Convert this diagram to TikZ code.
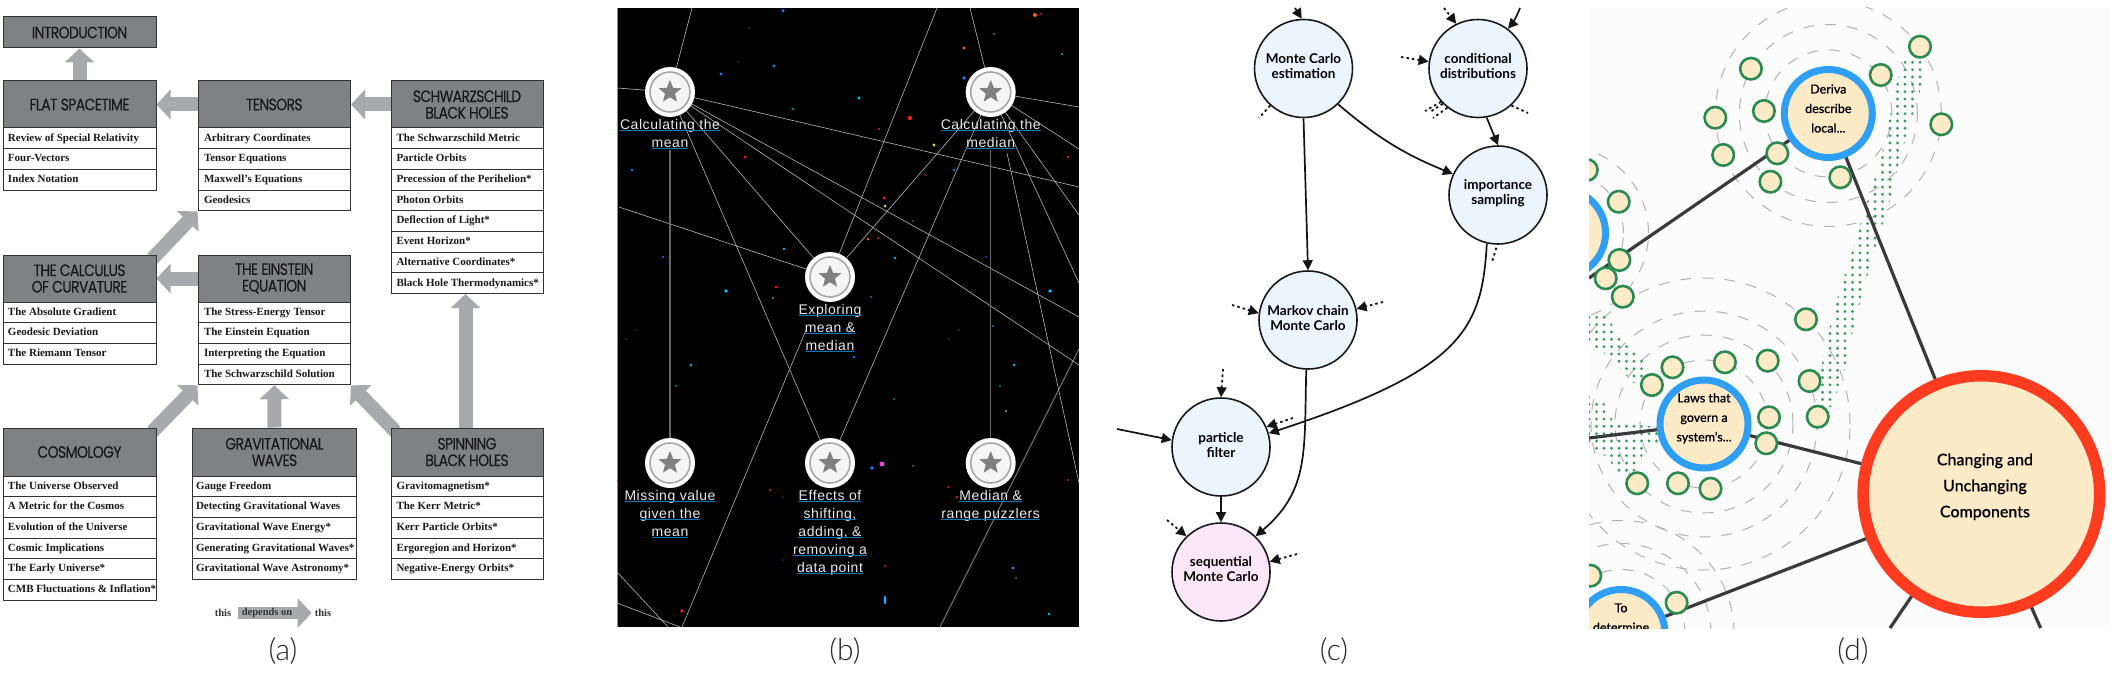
\documentclass[tikz,border=0pt]{standalone}
\usepackage{fontspec}
\usetikzlibrary{arrows.meta,shapes.geometric,backgrounds}
\setmainfont{Liberation Serif}
\newfontfamily\hdf[LetterSpace=-4,FakeStretch=0.85,FakeBold=0.15]{Poppins}
\newfontfamily\lbf[LetterSpace=4]{Liberation Sans}
\newfontfamily\latof{Lato}
\newfontfamily\latom[FakeBold=0.25]{Lato Medium}
\newfontfamily\capf{Lato Light}
\definecolor{hdrgray}{HTML}{808185}
\definecolor{arrgray}{HTML}{A8A9AD}
\definecolor{boxline}{HTML}{333336}
\definecolor{ulblue}{HTML}{0A78C8}
\definecolor{cblue}{HTML}{EAF5FE}
\definecolor{cpink}{HTML}{FCE6FA}
\definecolor{cream}{HTML}{FDEBC8}
\definecolor{ringblue}{HTML}{2F9FF5}
\definecolor{ringred}{HTML}{FF3B20}
\definecolor{ringgreen}{HTML}{2A8A4F}
\definecolor{dotgreen}{HTML}{3E9A65}
\definecolor{edged}{HTML}{3A3A3E}
\definecolor{dr}{HTML}{FF2010}
\definecolor{db}{HTML}{1080FF}
\definecolor{dc}{HTML}{00C0FF}
\definecolor{dg}{HTML}{00A830}
\definecolor{dd}{HTML}{0A5A20}
\definecolor{dn}{HTML}{102070}
\definecolor{do}{HTML}{FF6010}
\definecolor{dt}{HTML}{00C8B0}
\definecolor{dy}{HTML}{D8E040}
\definecolor{dm}{HTML}{FF40E0}
\tikzset{
  hdrbox/.style={draw=boxline,line width=1pt,fill=hdrgray,inner sep=0pt,align=center,text=black!90,
    font=\hdf\fontsize{16.5}{16.5}\selectfont},
  rowbox/.style={draw=boxline,line width=1pt,fill=white,inner sep=0pt,text height=8pt,text depth=2.5pt,
    font=\bfseries\fontsize{11}{13}\selectfont,text=black!90},
  bigarrow/.style={draw=arrgray,line width=14pt,-{Triangle[length=14pt,width=29pt,fill=arrgray]}},
  starbase/.style={circle,fill=white,minimum size=50pt,inner sep=0pt},
  starring/.style={circle,draw=black!35,line width=1.6pt,fill=black!4,minimum size=40pt,inner sep=0pt},
  starglyph/.style={star,star points=5,star point ratio=2.3,fill=black!50,minimum size=24pt,inner sep=0pt},
  skyline/.style={draw=black!28,line width=0.6pt},
  stemline/.style={draw=black!60,line width=1.5pt},
  starlabel/.style={anchor=north,inner sep=0pt,align=center,text=black!8,
    font=\lbf\fontsize{14}{18}\selectfont},
  concept/.style={circle,draw=black!90,line width=1.6pt,fill=cblue,minimum size=98pt,inner sep=0pt,
    font=\latof\bfseries\fontsize{13.5}{15}\selectfont},
  solidarrow/.style={draw=black!92,line width=1.7pt,-{Triangle[length=10pt,width=10pt]}},
  dottedarrow/.style={draw=black!92,line width=1.8pt,dash pattern=on 2.5pt off 3pt,
    -{Triangle[length=10pt,width=10pt,sep=0pt]}},
  dottedstub/.style={draw=black!92,line width=1.8pt,dash pattern=on 2.5pt off 3pt},
  ringdash/.style={draw=black!30,line width=1pt,dash pattern=on 11pt off 11pt},
  topicnode/.style={circle,draw=ringblue,line width=7pt,fill=cream,minimum size=88pt,inner sep=0pt,align=center,
    font=\latom\fontsize{12.5}{19.5}\selectfont,text=black},
  bignode/.style={circle,draw=ringred,line width=11.5pt,fill=cream,minimum size=236.5pt,inner sep=0pt,align=center,
    font=\latom\fontsize{16}{26}\selectfont,text=black},
  leaf/.style={circle,draw=ringgreen,line width=2.6pt,fill=cream,minimum size=21.5pt,inner sep=0pt},
  link/.style={draw=edged,line width=3.2pt},
  capt/.style={inner sep=0pt,text=black!85,font=\capf\fontsize{30}{32}\selectfont},
}
% name, x1, x2, ytop, header height, title, inset, rows
\newcommand{\tbl}[8]{%
  \pgfmathsetmacro{\tcx}{(#2+#3)/2}\pgfmathsetmacro{\tw}{#3-#2}%
  \pgfmathsetmacro{\tcy}{#4+#5/2}%
  \node[hdrbox,minimum width=\tw pt,minimum height=#5 pt] (#1H) at (\tcx,\tcy) {#6};
  \foreach \rowtxt [count=\ri] in {#8}{%
    \pgfmathsetmacro{\ry}{#4+#5+(\ri-0.5)*20.7}%
    \node[rowbox,minimum width=\tw pt,minimum height=20.7pt] (#1\ri) at (\tcx,\ry)
      {\makebox[\tw pt][l]{\hspace{#7pt}\rowtxt}};
  }%
}
\newcommand{\ulb}[1]{\setbox0\hbox{#1}\rlap{\copy0}\raisebox{-2pt}{\textcolor{ulblue}{\rule{\wd0}{1.1pt}}}}
\newcommand{\starnode}[3]{%
  \node[starbase] (#1) at (#2,#3) {};
  \node[starring] (#1-ring) at (#2,#3) {};
  \node[starglyph] (#1-star) at (#2,#3) {};
}
\newcommand{\ctext}[2]{\raisebox{#1}[0pt][0pt]{\begin{tabular}{@{}c@{}}#2\end{tabular}}}
\newcommand{\dotband}[5]{%
  \begin{scope}
    \clip #5;
    \foreach \kk in {0,...,#2}{\foreach \jj in {0,...,#4}{%
      \fill[dotgreen] ({#1+\kk*7.5},{#3+\jj*7.33}) circle (1.6pt);}}
  \end{scope}
}
\begin{document}
\begin{tikzpicture}[x=1pt,y=-1pt]
\useasboundingbox (0,0) rectangle (2117,674);
\begin{pgfonlayer}{background}
\fill[white] (0,0) rectangle (2117,674);
\end{pgfonlayer}

%% ---------- panel (a)
\node[hdrbox,minimum width=153pt,minimum height=31pt] (intro) at (79.5,32.5) {INTRODUCTION};
\tbl{flat}{3}{156}{81}{47}{FLAT SPACETIME}{5}{Review of Special Relativity,Four-Vectors,Index Notation}
\tbl{tens}{198}{350.5}{81}{47}{TENSORS}{6}{Arbitrary Coordinates,Tensor Equations,Maxwell’s Equations,Geodesics}
\tbl{schw}{391}{543}{81}{47}{SCHWARZSCHILD\\BLACK HOLES}{5.5}{The Schwarzschild Metric,Particle Orbits,Precession of the Perihelion*,Photon Orbits,Deflection of Light*,Event Horizon*,Alternative Coordinates*,Black Hole Thermodynamics*}
\tbl{calc}{3}{156}{255}{47}{THE CALCULUS\\OF CURVATURE}{5}{The Absolute Gradient,Geodesic Deviation,The Riemann Tensor}
\tbl{eins}{198}{350.5}{255}{47}{THE EINSTEIN\\EQUATION}{6}{The Stress-Energy Tensor,The Einstein Equation,Interpreting the Equation,The Schwarzschild Solution}
\tbl{cosm}{3}{156}{428}{48}{COSMOLOGY}{5}{The Universe Observed,A Metric for the Cosmos,Evolution of the Universe,Cosmic Implications,The Early Universe*,CMB Fluctuations \& Inflation*}
\tbl{grav}{192.5}{356.5}{428}{48}{GRAVITATIONAL\\WAVES}{3.5}{Gauge Freedom,Detecting Gravitational Waves,Gravitational Wave Energy*,Generating Gravitational Waves*,Gravitational Wave Astronomy*}
\tbl{spin}{391}{543}{428}{48}{SPINNING\\BLACK HOLES}{5.5}{Gravitomagnetism*,The Kerr Metric*,Kerr Particle Orbits*,Ergoregion and Horizon*,Negative-Energy Orbits*}
\node[inner sep=0pt,font=\bfseries\fontsize{10.5}{12}\selectfont,text=black!80] (this1) at (223,613) {this};
\node[inner sep=0pt,font=\bfseries\fontsize{10.5}{12}\selectfont,text=black!80] (this2) at (323,613) {this};
\node[inner sep=0pt,font=\bfseries\fontsize{10.5}{12}\selectfont,text=black!80] (depends) at (267,613) {depends on};
\begin{pgfonlayer}{background}
  \draw[bigarrow] (flatH.north) -- (intro.south);
  \draw[bigarrow] (tensH.west) -- (flatH.east);
  \draw[bigarrow] (schwH.west) -- (tensH.east);
  \draw[bigarrow] (einsH.west) -- (calcH.east);
  \draw[bigarrow] ([shift={(-4,4)}]calcH.north east) -- (tens4.south west);
  \draw[bigarrow] ([shift={(-4,4)}]cosmH.north east) -- (eins4.south west);
  \draw[bigarrow] (gravH.north) -- (eins4.south);
  \draw[bigarrow] ([shift={(5,4)}]spinH.north west) -- (eins4.south east);
  \draw[bigarrow] ([xshift=-1.5pt]spinH.north) -- ([xshift=-1.5pt]schw8.south);
  \draw[bigarrow,line width=12pt] ([xshift=7pt]this1.east) -- ([xshift=-3pt]this2.west);
\end{pgfonlayer}
\node[capt] (capa) at (283,651) {(a)};

%% ---------- panel (b)
\begin{pgfonlayer}{background}
\fill[black] (617,8) rectangle (1079,627);
\draw[draw=black!45,line width=0.8pt] (617,8) -- (617,627);
\begin{scope}
\clip (617,8) rectangle (1079,627);
\foreach \dx/\dy/\dc/\dd in {783/10.7/db/1.7,774/66/db/1.6,721/74/db/1.6,745/157/dr/1.5,632/170/db/1.4,793/109/dg/1.3,749/28/dd/0.9,738/62/dd/0.8,
 784/249/dc/1.4,663/257/db/1.1,726/291/dc/1.8,776/287/dr/1.3,773/298/dt/1.1,670/326/dc/0.9,691/365/dc/1.4,676/386/dg/1.1,636/330/dd/0.9,626/339/dd/0.8,
 1035/15/do/2,1041/14/dr/1,994/34/dg/1.2,964/48/do/1.6,1062/54/dt/1.2,964/78/db/1.8,859/98/dc/1.6,910/118/dr/2.2,879/129/dr/1.2,934/145/dy/1.6,954/170/db/1.3,925/175/dr/0.9,884/198/dr/1.5,885/206/dy/1.5,913/221/dg/1,1068/157/dr/1.2,868/239/do/1.4,878/238/dr/1.2,
 895/258/dc/1.4,871/297/dc/0.9,854/357/db/1.4,986/257/db/0.9,1050/291/dc/1.8,993/326/dc/0.9,1014/365/dc/1.4,1000/386/dg/1.1,894/399/dg/1,959/330/dd/0.9,949/339/dd/0.8,1006/411/white/0.8,882/464/dm/2.4,872/468/db/1.8,913/466/dg/1,
 617/481/dr/1.5,770/490/dr/1.1,783/497/dn/1.1,948/487/dr/1,957/497/dr/1.1,1068/480/dr/1,783/560/dn/1.2,885/566/dr/1,1013/568/dc/1.3,1016/578/dg/1,1049/614/dc/1.4,682/611/dr/1.8}
  \fill[\dc] (\dx,\dy) circle (\dd pt);
\fill[dc] (885,600) ellipse (1.2pt and 4.5pt);
\end{scope}
\end{pgfonlayer}
\starnode{mean}{670}{92}
\starnode{medi}{990.7}{92}
\starnode{expl}{830}{277}
\starnode{miss}{670}{463}
\starnode{effe}{830}{463}
\starnode{rang}{990.7}{463}
\node[starlabel] (meanL) at (670,119) {\ulb{Calculating the}\\\ulb{mean}};
\node[starlabel] (mediL) at (990.7,119) {\ulb{Calculating the}\\\ulb{median}};
\node[starlabel] (explL) at (830,304) {\ulb{Exploring}\\\ulb{mean \&}\\\ulb{median}};
\node[starlabel] (missL) at (670,490) {\ulb{Missing value}\\\ulb{given the}\\\ulb{mean}};
\node[starlabel] (effeL) at (830,490) {\ulb{Effects of}\\\ulb{shifting,}\\\ulb{adding, \&}\\\ulb{removing a}\\\ulb{data point}};
\node[starlabel] (rangL) at (990.7,490) {\ulb{Median \&}\\\ulb{range puzzlers}};
\coordinate (fa) at (692,8);
\coordinate (fb) at (617,88);
\coordinate (fc) at (1079,187);
\coordinate (fd) at (1079,317);
\coordinate (fe) at (1079,365);
\coordinate (ff) at (619,207);
\coordinate (fg) at (806,330);
\coordinate (fh) at (682,627);
\coordinate (fi) at (937,8);
\coordinate (fj) at (970,8);
\coordinate (fk) at (1079,107);
\coordinate (fl) at (1079,149);
\coordinate (fm) at (1079,215);
\coordinate (fn) at (1079,283);
\coordinate (fo) at (1007,153);
\coordinate (fp) at (1079,483);
\coordinate (fq) at (1079,349);
\coordinate (fr) at (940,627);
\coordinate (fs) at (617,572);
\coordinate (ft) at (668,627);
\coordinate (fu) at (617,603);
\coordinate (fv) at (680,627);
\begin{pgfonlayer}{background}
\foreach \pa/\pb in {mean/fa,mean/fb,mean/fc,mean/fd,mean/fe,mean/expl,mean/effe,ff/expl,fg/fh,fi/expl,medi/expl,fj/medi,medi/fk,medi/fl,medi/fm,medi/fn,medi/effe,fo/fp,fq/fr,fs/ft,fu/fv}
  \draw[skyline] (\pa) -- (\pb);
\draw[stemline] (meanL.south) -- (miss.north);
\draw[stemline] (mediL.south) -- (rang.north);
\end{pgfonlayer}
\node[capt] (capb) at (845,651) {(b)};

%% ---------- panel (c)
\node[concept] (mc) at (1303.5,68.5) {\ctext{-3.5pt}{Monte Carlo\\estimation}};
\node[concept] (cd) at (1478,68.5) {\ctext{-3.5pt}{conditional\\distributions}};
\node[concept] (is) at (1498,195) {\ctext{-3pt}{importance\\sampling}};
\node[concept] (mk) at (1308,320) {\ctext{-3.5pt}{Markov chain\\Monte Carlo}};
\node[concept] (pf) at (1221,447) {\ctext{-3.5pt}{particle\\filter}};
\node[concept,fill=cpink] (sq) at (1221,572) {\ctext{-3pt}{sequential\\Monte Carlo}};
\coordinate (c1) at (1295,8);
\coordinate (c2) at (1520,8);
\coordinate (c3) at (1444,8);
\coordinate (c4) at (1401,57);
\coordinate (c5) at (1259,118);
\coordinate (c6) at (1425,111);
\coordinate (c7) at (1433,118);
\coordinate (c8) at (1430,112);
\coordinate (c9) at (1528,113);
\coordinate (c10) at (1492,262);
\coordinate (c11) at (1232,305);
\coordinate (c12) at (1383,302);
\coordinate (c13) at (1223,369);
\coordinate (c14) at (1293,418);
\coordinate (c15) at (1117,429);
\coordinate (c16) at (1167,520);
\coordinate (c17) at (1297,554);
\draw[solidarrow] (c1) -- (mc.92);
\draw[solidarrow] (c2) .. controls (1516,18) and (1512,24) .. (cd.53);
\draw[dottedarrow] (c3) -- (cd.116);
\draw[dottedarrow] (c4) -- (cd.172);
\draw[dottedstub] (mc.-132) -- (c5);
\draw[dottedstub] (cd.-138) -- (c6);
\draw[dottedstub] (cd.-128) -- (c7);
\draw[dottedstub] (cd.-135) -- (c8);
\draw[dottedstub] (cd.-48) -- (c9);
\draw[solidarrow] (mc.south) -- (mk.north);
\draw[solidarrow] (mc.-46) to[bend right=9] (is.155);
\draw[solidarrow] (cd.-80) -- (is.north);
\draw[solidarrow] (is.-103) .. controls (1482,330) and (1462,370) .. (pf.16);
\draw[dottedstub] ([yshift=-3pt]is.-92) -- (c10);
\draw[dottedarrow] (c11) -- (mk.172);
\draw[dottedarrow] (c12) -- (mk.13);
\draw[solidarrow] (mk.-92) .. controls (1304,450) and (1310,490) .. (sq.46);
\draw[dottedarrow] (c13) -- (pf.north);
\draw[dottedarrow] (c14) -- (pf.24);
\draw[solidarrow] (c15) -- (pf.172);
\draw[solidarrow] (pf.south) -- (sq.north);
\draw[dottedarrow] (c16) -- (sq.134);
\draw[dottedarrow] (c17) -- (sq.12);
\node[capt] (capc) at (1334,651) {(c)};

%% ---------- panel (d)
\fill[black!1] (1589,8) rectangle (2111,628);
\begin{scope}
\clip (1589,8) rectangle (2111,628);
\foreach \rr in {63.5,89,113} \draw[ringdash] (1828.3,113.5) circle (\rr pt);
\foreach \rr in {64,89,113,146} \draw[ringdash] (1704,424) circle (\rr pt);
\foreach \rr in {62,87} \draw[ringdash] (1561.5,233) circle (\rr pt);
\foreach \rr in {64,90,113} \draw[ringdash] (1621,633.5) circle (\rr pt);
\dotband{1800}{18}{55}{49}{(1903.6,57)--(1896.8,83)--(1881.4,157)--(1867.7,200)--(1852.3,250)--(1836.8,300)--(1828.3,333)--(1821.4,367)--(1814.6,407)--(1831.7,407)--(1845.4,367)--(1852.3,333)--(1860.8,300)--(1874.5,250)--(1890,200)--(1900.2,157)--(1922.5,83)--(1927.6,57)--cycle}
\dotband{1589}{10}{310}{11}{(1589,313)--(1604,313)--(1621,337)--(1645,360)--(1652,380)--(1633,383)--(1611,358)--(1589,343)--cycle}
\dotband{1589}{10}{397}{12}{(1589,397)--(1604,403)--(1614,423)--(1659,427)--(1659,447)--(1645,447)--(1638,470)--(1621,477)--(1607,457)--(1589,447)--cycle}
\node[topicnode] (deriva) at (1828.3,113.5) {\ctext{1.4pt}{Deriva\\describe\\local...}};
\node[topicnode] (lefttopic) at (1561.5,233) {};
\node[topicnode] (laws) at (1704,424) {\ctext{3pt}{Laws that\\govern a\\system’s...}};
\node[topicnode] (todet) at (1621,633.5) {\ctext{12.4pt}{To\\determine}};
\node[bignode] (chg) at (1981.4,494) {\hspace*{7pt}\ctext{3.6pt}{Changing and\\Unchanging\\Components}};
\coordinate (d1) at (1589,278);
\coordinate (d2) at (1589,438);
\coordinate (d3) at (1890,628);
\coordinate (d4) at (2040.6,628);
\draw[link] (d1) -- (deriva);
\draw[link] (deriva) -- (chg);
\draw[link] (d2) -- (laws);
\draw[link] (laws) -- (chg);
\draw[link] (todet) -- (chg);
\draw[link] (chg) -- (d3);
\draw[link] (chg) -- (d4);
\foreach \lx/\ly [count=\li] in {1920/46.7,1880.7/75,1750.9/68.7,1715.3/117.7,1763.9/111,1941.3/124.3,1723.2/155,1777.3/153.3,1770.4/181.7,1840.3/177.3,1618.7/201.7,1619.4/260,1605.7/278.3,1622.8/296.7,1586.8/170,1806/319.3,1767.7/360.7,1724.9/362.3,1672.5/367.3,1651.9/385,1809.5/381,1769/417.3,1817.7/416.7,1766.3/443.3,1637.2/483.3,1678/483.3,1710.5/488.7,1590.3/575.7,1676.6/602.7}
  \node[leaf] (leaf\li) at (\lx,\ly) {};
\end{scope}
\node[capt] (capd) at (1853,651) {(d)};
\end{tikzpicture}
\end{document}
